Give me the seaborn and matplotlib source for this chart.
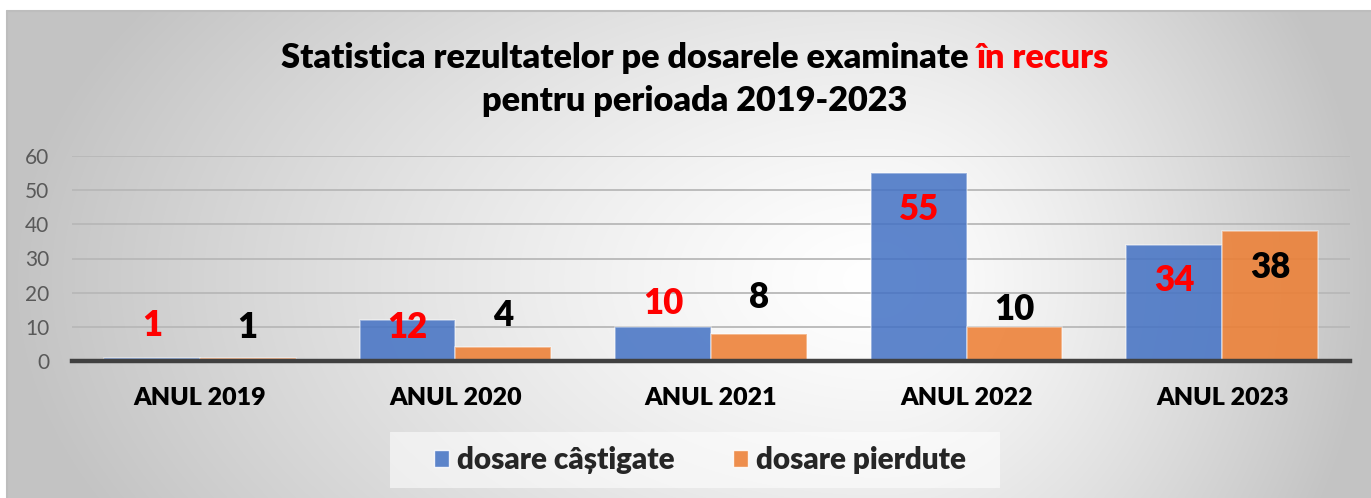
import numpy as np
import pandas as pd
import matplotlib
matplotlib.use("Agg")
import matplotlib.pyplot as plt
from matplotlib.patches import Patch, Rectangle
import seaborn as sns

# ---- data ----
categories = ["ANUL 2019", "ANUL 2020", "ANUL 2021", "ANUL 2022", "ANUL 2023"]
series_names = ["dosare câștigate", "dosare pierdute"]
castigate = [1, 12, 10, 55, 34]
pierdute = [1, 4, 8, 10, 38]
# vertical centre of each data label (in data units), as placed in the original
label_y_castigate = [10.5, 9.8, 16.7, 44.4, 23.7]
label_y_pierdute = [9.7, 13.2, 18.6, 15.1, 27.5]
yticks = [0, 10, 20, 30, 40, 50, 60]
title_black = "Statistica rezultatelor pe dosarele examinate "
title_red = "în recurs"
title_line2 = "pentru perioada 2019-2023"

df = pd.DataFrame({
    "an": categories * 2,
    "valoare": castigate + pierdute,
    "serie": [series_names[0]] * len(categories) + [series_names[1]] * len(categories),
})

sns.set_theme(style="white")
FONT = ["Lato", "DejaVu Sans"]
plt.rcParams["font.family"] = FONT
BOLD = "heavy"

W, H = 1371, 498
fig = plt.figure(figsize=(W / 100, H / 100), dpi=100)
fig.patch.set_facecolor("white")

# ---- gradient chart-area background ----
bx0, by_top = 7, 11
bg = fig.add_axes([bx0 / W, 0, 1 - bx0 / W, (H - by_top) / H], zorder=-10)
gx = np.arange(bx0, W)
gy = np.arange(by_top, H)
X, Y = np.meshgrid(gx, gy)
cx, cy = 880, 280
rx = np.where(X < cx, cx - bx0, W - cx)
ry = 520
t = np.sqrt(((X - cx) / rx) ** 2 + ((Y - cy) / ry) ** 2)
t = np.clip(t, 0, 1) ** 1.3
val = 1.0 - 0.235 * t
img = np.dstack([val, val, val])
bg.imshow(img, aspect="auto", interpolation="bilinear", extent=[0, 1, 0, 1])
bg.set_xlim(0, 1)
bg.set_ylim(0, 1)
bg.axis("off")
bg.plot([0, 0], [0, 1], color="#bdbdbd", lw=1.5, transform=bg.transAxes, clip_on=False)
bg.plot([0, 1], [1, 1], color="#bdbdbd", lw=1.5, transform=bg.transAxes, clip_on=False)

# ---- main plot ----
left, right = 72 / W, 1350 / W
bottom, top = (H - 361) / H, (H - 156) / H
ax = fig.add_axes([left, bottom, right - left, top - bottom])
ax.set_facecolor("none")

blue = "#4472C4"
orange = "#ED7D31"
sns.barplot(data=df, x="an", y="valoare", hue="serie", palette=[blue, orange],
            width=0.75, gap=0, ax=ax, legend=False, saturation=1)

for p in ax.patches:
    fc = p.get_facecolor()
    p.set_facecolor((fc[0], fc[1], fc[2], 0.86))
    p.set_edgecolor((1, 1, 1, 0.45))
    p.set_linewidth(1.2)

ax.set_ylim(0, 60)
ax.set_xlim(-0.5, len(categories) - 0.5)
ax.set_yticks(yticks)
ax.set_axisbelow(True)
ax.yaxis.grid(True, color="#b8b8b8", lw=1.3)
ax.xaxis.grid(False)
for s in ["left", "right", "top"]:
    ax.spines[s].set_visible(False)
ax.spines["bottom"].set_color("#404040")
ax.spines["bottom"].set_linewidth(3.2)
ax.tick_params(axis="y", length=0, pad=16.5, labelsize=15, labelcolor="#595959")
ax.tick_params(axis="x", length=0, pad=19, labelsize=18)
for lab in ax.get_yticklabels():
    lab.set_family(FONT)
for lab in ax.get_xticklabels():
    lab.set_fontweight(BOLD)
    lab.set_color("black")
    lab.set_family(FONT)
ax.set_xlabel("")
ax.set_ylabel("")

# ---- data labels ----
bars_c = ax.containers[0]
bars_p = ax.containers[1]
for bar, v, ly in zip(bars_c, castigate, label_y_castigate):
    ax.text(bar.get_x() + bar.get_width() / 2, ly, str(v), ha="center", va="center",
            fontsize=25, fontweight=BOLD, color="#FF0000", family=FONT)
for bar, v, ly in zip(bars_p, pierdute, label_y_pierdute):
    ax.text(bar.get_x() + bar.get_width() / 2, ly, str(v), ha="center", va="center",
            fontsize=25, fontweight=BOLD, color="black", family=FONT)

# ---- title (two colours on line 1) ----
renderer = fig.canvas.get_renderer()
tsize = 24
probe = fig.text(0, 0, title_black + title_red, fontsize=tsize, fontweight=BOLD, family=FONT)
wfull = probe.get_window_extent(renderer).width
probe.remove()
target = 828
tsize = tsize * target / wfull
probe = fig.text(0, 0, title_black + title_red, fontsize=tsize, fontweight=BOLD, family=FONT)
wfull = probe.get_window_extent(renderer).width
probe.remove()
cxp = 695
x0 = (cxp - wfull / 2) / W
x1 = (cxp + wfull / 2) / W
y1 = (H - 58) / H
fig.text(x0, y1, title_black, ha="left", va="center", fontsize=tsize,
         fontweight=BOLD, color="black", family=FONT)
fig.text(x1, y1, title_red, ha="right", va="center", fontsize=tsize,
         fontweight=BOLD, color="#FF0000", family=FONT)
fig.text(cxp / W, (H - 101) / H, title_line2, ha="center", va="center", fontsize=tsize,
         fontweight=BOLD, color="black", family=FONT)

# ---- legend ----
fig.patches.append(Rectangle((390 / W, (H - 488) / H), 610 / W, 56 / H,
                             transform=fig.transFigure, facecolor="white", alpha=0.55,
                             edgecolor="none", zorder=1))
handles = [Patch(facecolor=blue, alpha=0.86, edgecolor=(1, 1, 1, 0.5)),
           Patch(facecolor=orange, alpha=0.86, edgecolor=(1, 1, 1, 0.5))]
leg = fig.legend(handles, series_names, loc="center", bbox_to_anchor=(700 / W, (H - 460) / H),
                 ncol=2, frameon=False, handlelength=0.5, handleheight=0.5,
                 handletextpad=0.25, columnspacing=2.0,
                 prop={"family": FONT, "weight": BOLD, "size": 21.3})

fig.savefig("out.png", dpi=100)
